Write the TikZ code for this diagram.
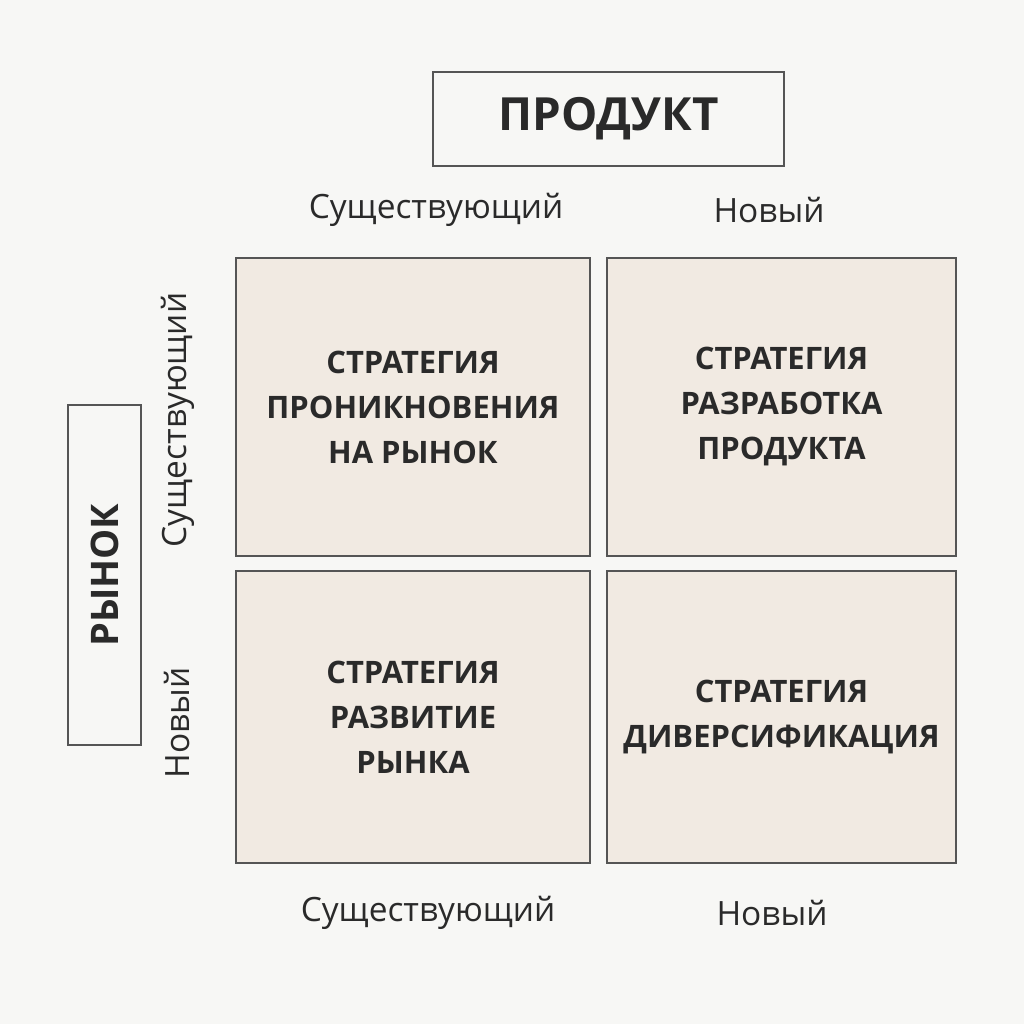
\documentclass[tikz,border=0pt]{standalone}
\usepackage{fontspec}
\setmainfont{Open Sans}
\definecolor{bgcol}{HTML}{F7F7F5}
\definecolor{quadfill}{HTML}{F1EAE2}
\definecolor{edgecol}{HTML}{555555}
\definecolor{inkcol}{HTML}{2A2A2A}
\tikzset{
	quad/.style={draw=edgecol, line width=1.1pt, fill=quadfill, align=center, text=inkcol,
		font=\fontsize{22}{32}\selectfont\bfseries},
	headbox/.style={draw=edgecol, line width=1.1pt, fill=bgcol, text=inkcol,
		font=\fontsize{32.5}{40}\selectfont\bfseries},
	axislbl/.style={text=inkcol, font=\fontsize{23.8}{30}\selectfont}
}
\begin{document}
\begin{tikzpicture}[x=0.025cm, y=-0.025cm]
	\useasboundingbox[fill=bgcol] (0,0) rectangle (1024,1024);
	
	% headings
	\node[headbox, minimum width=8.775cm, minimum height=2.35cm] (prod) at (608.5,119) {ПРОДУКТ};
	\node[headbox, font=\fontsize{27}{32}\selectfont\bfseries, rotate=90,
		minimum width=8.5cm, minimum height=1.825cm] (market) at (104.5,575) {РЫНОК};
	
	\node[axislbl] (pold) at (436,210) {Существующий};
	\node[axislbl] (pnew) at (769,210) {Новый};
	\node[axislbl] (bold) at (428,913) {Существующий};
	\node[axislbl] (bnew) at (772,913) {Новый};
	\node[axislbl, rotate=90] (mold) at (178,420) {Существующий};
	\node[axislbl, rotate=90] (mnew) at (177,723) {Новый};
	
	% the four strategies
	\node[quad, minimum width=8.85cm, minimum height=7.45cm] (pen) at (413,407)
		{СТРАТЕГИЯ\\ПРОНИКНОВЕНИЯ\\НА РЫНОК};
	\node[quad, minimum width=8.725cm, minimum height=7.45cm] (dev) at (781.5,407)
		{СТРАТЕГИЯ\\РАЗРАБОТКА\\ПРОДУКТА};
	\node[quad, minimum width=8.85cm, minimum height=7.3cm] (mkt) at (413,717)
		{СТРАТЕГИЯ\\РАЗВИТИЕ\\РЫНКА};
	\node[quad, minimum width=8.725cm, minimum height=7.3cm] (div) at (781.5,717)
		{СТРАТЕГИЯ\\ДИВЕРСИФИКАЦИЯ};
\end{tikzpicture}
\end{document}
